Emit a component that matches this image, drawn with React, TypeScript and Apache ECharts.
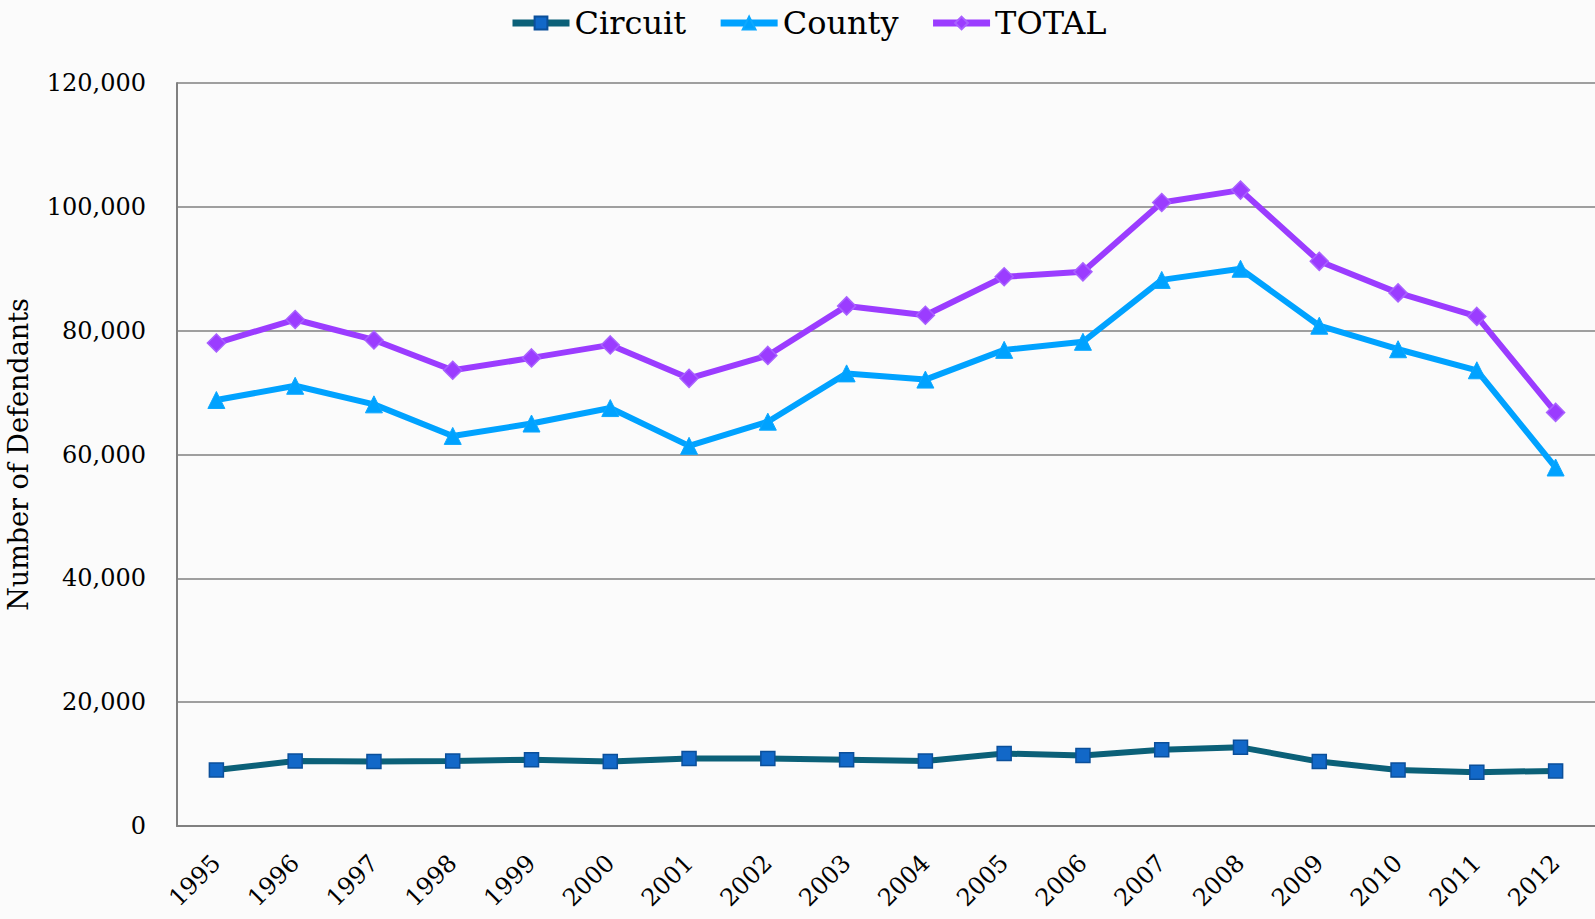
import React, { useEffect, useRef } from "react";
import * as echarts from "echarts";

const years = ["1995","1996","1997","1998","1999","2000","2001","2002","2003","2004","2005","2006","2007","2008","2009","2010","2011","2012"];
const circuit = [9050, 10500, 10400, 10500, 10700, 10400, 10900, 10900, 10700, 10500, 11700, 11400, 12300, 12700, 10400, 9050, 8700, 8900];
const county = [68800, 71100, 68100, 63000, 65000, 67500, 61400, 65300, 73100, 72100, 76900, 78200, 88200, 90000, 80800, 77000, 73600, 57900];
const total = [78000, 81800, 78500, 73600, 75600, 77700, 72300, 76000, 84000, 82500, 88700, 89500, 100700, 102700, 91200, 86100, 82300, 66800];
const yTicks = { min: 0, max: 120000, interval: 20000 };

export default function App() {
  const ref = useRef<HTMLDivElement>(null);
  useEffect(() => {
    const chart = echarts.init(ref.current!, null, { renderer: "svg" });
    const serif = "'DejaVu Serif', serif";
    chart.setOption({
      animation: false,
      backgroundColor: "#fbfbfb",
      legend: {
        top: 2,
        left: 504,
        itemWidth: 57,
        itemHeight: 16,
        itemGap: 31,
        lineStyle: { width: 7 },
        textStyle: { fontFamily: serif, fontSize: 32, color: "#000" },
        data: ["Circuit", "County", "TOTAL"],
      },
      grid: { left: 177, right: 0, top: 83, bottom: 93, containLabel: false, outerBoundsMode: "none" },
      xAxis: {
        type: "category",
        data: years,
        boundaryGap: true,
        axisLine: { lineStyle: { color: "#808080", width: 2 } },
        axisTick: { show: false },
        axisLabel: { rotate: 45, fontFamily: serif, fontSize: 24, color: "#000", margin: 33 },
      },
      yAxis: {
        type: "value",
        min: yTicks.min,
        max: yTicks.max,
        interval: yTicks.interval,
        name: "Number of Defendants",
        nameLocation: "middle",
        nameGap: 145,
        nameTextStyle: { fontFamily: serif, fontSize: 27, color: "#000" },
        axisLine: { show: true, lineStyle: { color: "#808080", width: 2 } },
        axisTick: { show: false },
        splitLine: { lineStyle: { color: "#808080", width: 1.5 } },
        axisLabel: {
          fontFamily: serif,
          fontSize: 24,
          color: "#000",
          margin: 31,
          formatter: (v: number) => v.toLocaleString("en-US"),
        },
      },
      series: [
        {
          name: "Circuit",
          type: "line",
          data: circuit,
          symbol: "rect",
          symbolSize: 14,
          lineStyle: { color: "#0b6078", width: 6 },
          itemStyle: { color: "#1268c8", borderColor: "#0b4f9a", borderWidth: 1.5 },
        },
        {
          name: "County",
          type: "line",
          data: county,
          symbol: "triangle",
          symbolSize: 17,
          lineStyle: { color: "#00a2ff", width: 6 },
          itemStyle: { color: "#00a2ff", borderColor: "#0ca8ff", borderWidth: 1 },
        },
        {
          name: "TOTAL",
          type: "line",
          data: total,
          symbol: "diamond",
          symbolSize: 18,
          lineStyle: { color: "#9b3cff", width: 6 },
          itemStyle: { color: "#9b3cff", borderColor: "#a860ff", borderWidth: 1.5 },
        },
      ],
    });
    return () => chart.dispose();
  }, []);
  return <div ref={ref} style={{ position: "fixed", left: 0, top: 0, width: 1595, height: 919 }} />;
}
